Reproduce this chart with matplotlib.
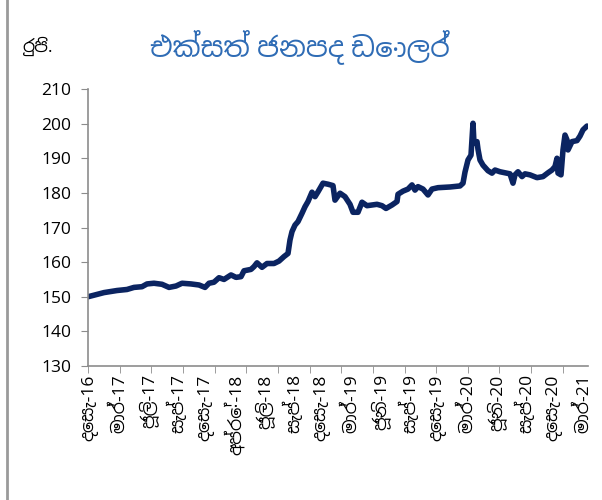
import numpy as np
import matplotlib.pyplot as plt
from matplotlib import font_manager
from matplotlib.ft2font import FT2Font

# ---- Datos: tipo de cambio USD (rupias), por número de observación ----
obs = [0, 32, 58, 78, 92, 108, 118, 132, 148, 162, 176, 188, 206, 222, 234,
       242, 252, 262, 272, 286, 296, 306, 312, 326, 332, 338, 348, 358, 372,
       382, 392, 400, 404, 408, 414, 420, 428, 434, 440, 448, 454, 460, 470,
       480, 490, 494, 504, 514, 524, 530, 540, 548, 558, 578, 588, 596, 608,
       618, 620, 630, 640, 648, 654, 660, 670, 680, 688, 700, 724, 744, 750,
       754, 760, 766, 770, 772, 778, 780, 784, 790, 800, 808, 814, 824, 834,
       844, 850, 854, 860, 868, 874, 884, 898, 910, 920, 928, 934, 938, 940,
       946, 950, 954, 958, 960, 968, 978, 984, 990, 998]
rate = [150.0, 151.2, 151.8, 152.1, 152.7, 152.9, 153.7, 153.9, 153.6, 152.7,
        153.1, 153.9, 153.7, 153.4, 152.7, 153.9, 154.2, 155.5, 155.0, 156.3,
        155.6, 155.8, 157.5, 157.9, 158.7, 159.8, 158.5, 159.6, 159.6, 160.3,
        161.6, 162.5, 166.4, 168.8, 170.7, 171.7, 174.1, 176.0, 177.5, 180.2,
        178.9, 180.3, 182.8, 182.5, 182.1, 177.9, 179.9, 178.9, 176.7, 174.4,
        174.4, 177.3, 176.3, 176.7, 176.3, 175.5, 176.5, 177.5, 179.6, 180.5,
        181.1, 182.3, 180.8, 181.8, 181.1, 179.4, 181.1, 181.5, 181.7, 182.0,
        182.8, 186.0, 189.5, 190.9, 200.1, 194.3, 194.8, 192.6, 189.5, 188.0,
        186.4, 185.7, 186.6, 186.1, 185.8, 185.5, 182.8, 185.2, 186.1, 184.7,
        185.5, 185.2, 184.4, 184.7, 185.8, 186.6, 187.6, 190.0, 185.7, 185.2,
        192.4, 196.7, 195.3, 192.4, 194.8, 195.1, 196.4, 198.2, 199.3]

month_labels = ['දෙසැ-16', 'මාර්-17', 'ජූලි-17', 'සැප්-17', 'දෙසැ-17',
                'අප්රේ-18', 'ජූලි-18', 'සැප්-18', 'දෙසැ-18', 'මාර්-19',
                'ජූනි-19', 'සැප්-19', 'දෙසැ-19', 'මාර්-20', 'ජූනි-20',
                'සැප්-20', 'දෙසැ-20', 'මාර්-21']
title = 'එක්සත් ජනපද ඩොලර්'
unit = 'රුපි.'


# ---- Buscar una fuente con glifos cingaleses (preferir Noto / Sans) ----
def font_with(ch, fallback='DejaVu Sans'):
    found = []
    for f in font_manager.fontManager.ttflist:
        try:
            if ord(ch) in FT2Font(f.fname).get_charmap():
                found.append(f.name)
        except Exception:
            continue
    if not found:
        return fallback
    found.sort(key=lambda n: (0 if 'Noto' in n else 1,
                              0 if 'Sans' in n else 1, n))
    return found[0]


sinhala = font_with('ක')
plt.rcParams['font.family'] = ['Open Sans', sinhala, 'DejaVu Sans']

navy = '#0b2461'
grey = '#8c8c8c'

fig = plt.figure(figsize=(6.02, 5.00), dpi=100)
ax = fig.add_axes([88 / 602, 1 - 366 / 500, 500 / 602, 277 / 500])

ax.plot(obs, rate, color=navy, linewidth=4.0, solid_joinstyle='round',
        solid_capstyle='round')

ax.set_ylim(130, 210)
ax.set_yticks(np.arange(130, 211, 10))
ax.set_xlim(0, 1000)

# etiquetas cada 58 observaciones, marcas cada ~63
ax.set_xticks(4 + 58 * np.arange(len(month_labels)))
ax.set_xticklabels(month_labels, rotation=90, fontsize=12.5, va='top')
ax.set_xticks(np.arange(0, 1000, 63.3), minor=True)
ax.tick_params(axis='x', which='major', length=0, pad=6)
ax.tick_params(axis='x', which='minor', length=5, color=grey, direction='out')
ax.tick_params(axis='y', length=5, color=grey, labelsize=12.5, pad=7)

for s in ['top', 'right']:
    ax.spines[s].set_visible(False)
for s in ['left', 'bottom']:
    ax.spines[s].set_color(grey)
    ax.spines[s].set_linewidth(1.2)

fig.text(300 / 602, 1 - 47 / 500, title, color='#2f6cb5', fontsize=20,
         fontweight='bold', ha='center', va='center')
fig.text(22 / 602, 1 - 46 / 500, unit, fontsize=12.5, ha='left', va='center')

# borde izquierdo del recuadro
fig.add_artist(plt.Line2D([7 / 602, 7 / 602], [0, 1], color='#9a9a9a',
                          linewidth=2, transform=fig.transFigure))

fig.savefig('out.png', dpi=100)
